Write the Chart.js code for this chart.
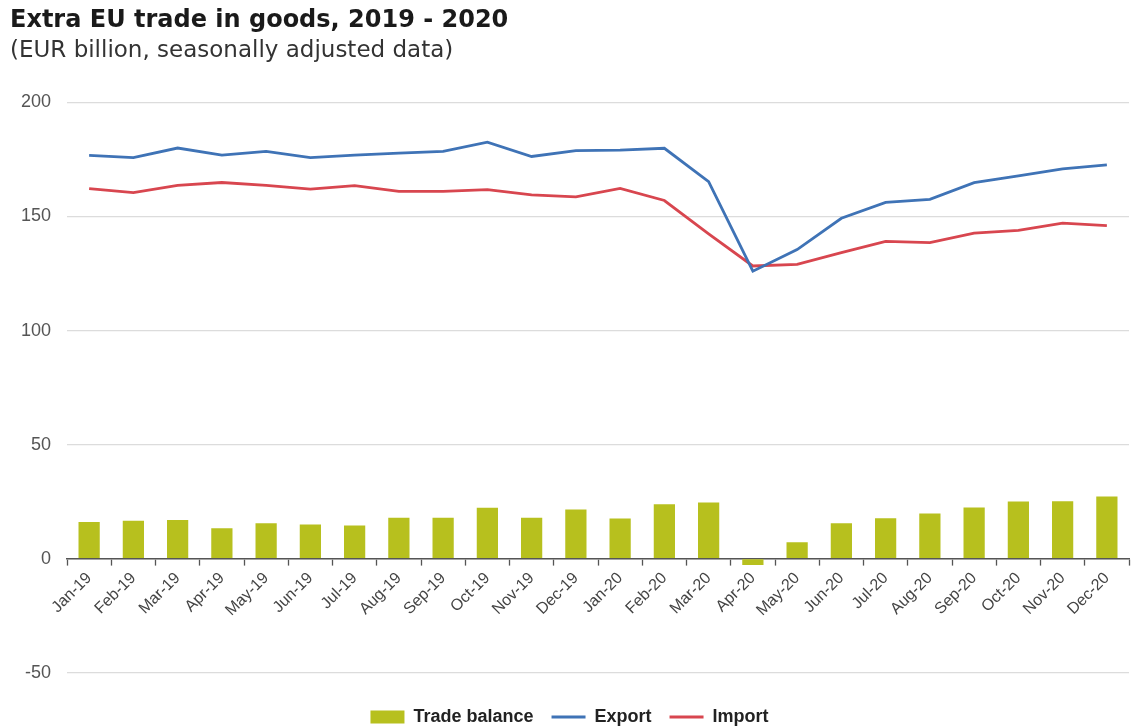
<!DOCTYPE html>
<html>
<head>
<meta charset="utf-8">
<script src="https://cdn.jsdelivr.net/npm/chart.js@4/dist/chart.umd.min.js"></script>
<style>
  html, body { margin: 0; padding: 0; background: #ffffff; }
  #wrap { width: 1134px; height: 726px; position: relative; }
</style>
</head>
<body>
<div id="wrap"><canvas id="c" width="1134" height="726"></canvas></div>
<script>
const categories = ["Jan-19","Feb-19","Mar-19","Apr-19","May-19","Jun-19","Jul-19","Aug-19","Sep-19","Oct-19","Nov-19","Dec-19",
                    "Jan-20","Feb-20","Mar-20","Apr-20","May-20","Jun-20","Jul-20","Aug-20","Sep-20","Oct-20","Nov-20","Dec-20"];
const tradeBalance = [16.1, 16.6, 17.0, 13.3, 15.5, 15.0, 14.6, 18.0, 18.0, 22.3, 18.0, 21.6,
                      17.6, 23.9, 24.6, -2.8, 7.2, 15.6, 17.7, 19.8, 22.5, 25.1, 25.2, 27.3];
const exportValues = [176.8, 175.8, 180.0, 176.9, 178.5, 175.8, 176.9, 177.8, 178.5, 182.6, 176.3, 178.9,
                      179.1, 179.9, 165.3, 126.0, 135.5, 149.2, 156.2, 157.5, 164.8, 167.8, 170.9, 172.6];
const importValues = [162.2, 160.5, 163.6, 164.9, 163.6, 162.0, 163.5, 161.0, 161.0, 161.8, 159.5, 158.6,
                      162.3, 157.0, 142.4, 128.3, 129.0, 134.2, 139.1, 138.5, 142.7, 143.9, 147.1, 146.0];
const yTicks = [-50, 0, 50, 100, 150, 200];

const FONT = "'Liberation Sans', Arial, sans-serif";
const TITLE_FONT = "'DejaVu Sans', 'Liberation Sans', sans-serif";

new Chart(document.getElementById('c'), {
  data: {
    labels: categories,
    datasets: [
      {
        type: 'bar',
        label: 'Trade balance',
        data: tradeBalance,
        backgroundColor: '#b7c01e',
        borderWidth: 0,
        barPercentage: 0.48,
        categoryPercentage: 1.0,
        pointStyle: 'rect',
        order: 3
      },
      {
        type: 'line',
        label: 'Export',
        data: exportValues,
        borderColor: '#3f73b6',
        backgroundColor: '#3f73b6',
        borderWidth: 2.8,
        pointRadius: 0,
        tension: 0,
        pointStyle: 'line',
        order: 1
      },
      {
        type: 'line',
        label: 'Import',
        data: importValues,
        borderColor: '#d8464f',
        backgroundColor: '#d8464f',
        borderWidth: 2.8,
        pointRadius: 0,
        tension: 0,
        pointStyle: 'line',
        order: 2
      }
    ]
  },
  options: {
    responsive: false,
    animation: false,
    layout: { padding: { left: 10, right: 5, top: 0, bottom: -10 } },
    plugins: {
      title: {
        display: true,
        text: 'Extra EU trade in goods, 2019 - 2020',
        align: 'start',
        color: '#1a1a1a',
        font: { family: TITLE_FONT, size: 24, weight: 'bold' },
        padding: { top: 6, bottom: 0 }
      },
      subtitle: {
        display: true,
        text: '(EUR billion, seasonally adjusted data)',
        align: 'start',
        color: '#333333',
        font: { family: TITLE_FONT, size: 23 },
        padding: { top: 2, bottom: 38 }
      },
      legend: {
        position: 'bottom',
        title: { display: true, text: '', font: { size: 1 }, padding: { top: 16, bottom: 0 } },
        labels: {
          usePointStyle: true,
          pointStyleWidth: 34,
          boxHeight: 13,
          padding: 18,
          color: '#222222',
          font: { family: FONT, size: 18, weight: 'bold' },
          sort: (a, b) => a.datasetIndex - b.datasetIndex
        }
      },
      tooltip: { enabled: false }
    },
    scales: {
      x: {
        position: { y: 0 },
        offset: true,
        afterFit: (scale) => { scale.paddingLeft = 0; scale.paddingRight = 0; },
        grid: {
          offset: true,
          drawOnChartArea: false,
          drawTicks: true,
          tickLength: 6,
          tickColor: '#555555',
          tickWidth: 1.3
        },
        border: { display: true, color: '#555555', width: 1.6 },
        ticks: {
          color: '#444444',
          font: { family: FONT, size: 16 },
          maxRotation: 45,
          minRotation: 45,
          padding: 4,
          autoSkip: false
        }
      },
      y: {
        min: -50,
        max: 200,
        afterBuildTicks: (scale) => { scale.ticks = yTicks.map(v => ({ value: v })); },
        afterFit: (scale) => { scale.width = 57; },
        grid: {
          color: '#dcdcdc',
          lineWidth: 1.2,
          drawTicks: false
        },
        border: { display: false },
        ticks: {
          color: '#555555',
          font: { family: FONT, size: 18 },
          padding: 16
        }
      }
    }
  }
});
</script>
</body>
</html>
